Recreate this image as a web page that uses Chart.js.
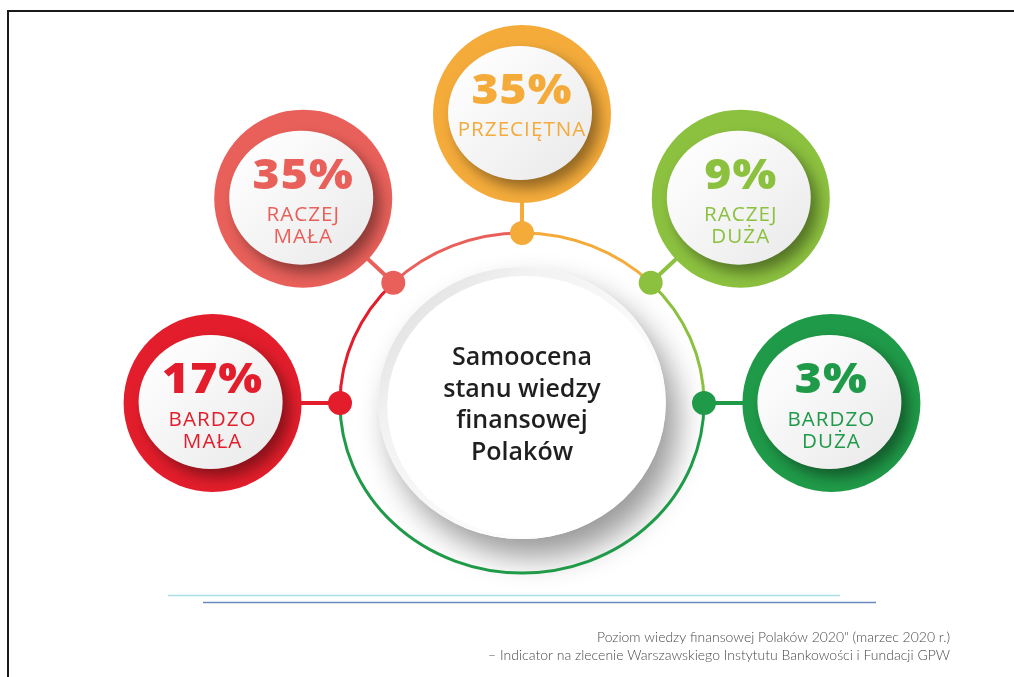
<!DOCTYPE html>
<html>
<head>
<meta charset="utf-8">
<script src="https://cdn.jsdelivr.net/npm/chart.js@4.4.1/dist/chart.umd.min.js"></script>
<style>
  html, body { margin: 0; padding: 0; background: #ffffff; }
  #wrap { position: relative; width: 1014px; height: 677px; }
  canvas { display: block; }
</style>
</head>
<body>
<div id="wrap"><canvas id="c" width="1014" height="677"></canvas></div>
<script>
// ---- data ----
const categories = ['BARDZO MAŁA', 'RACZEJ MAŁA', 'PRZECIĘTNA', 'RACZEJ DUŻA', 'BARDZO DUŻA'];
const labelLines = [['BARDZO', 'MAŁA'], ['RACZEJ', 'MAŁA'], ['PRZECIĘTNA'], ['RACZEJ', 'DUŻA'], ['BARDZO', 'DUŻA']];
const values = [17, 35, 35, 9, 3];
const centerTitle = ['Samoocena', 'stanu wiedzy', 'finansowej', 'Polaków'];
const sourceLines = [
  'Poziom wiedzy finansowej Polaków 2020" (marzec 2020 r.)',
  '– Indicator na zlecenie Warszawskiego Instytutu Bankowości i Fundacji GPW'
];

// ---- styles ----
const colors = ['#e31d2b', '#e9605a', '#f4ab3a', '#8cc13f', '#1f9a48'];
const ORBIT = 1.7;        // satellite distance in ring units

// angle (math convention, degrees) of each category on the ring: left -> right over the top
const angleOf = i => 180 - i * (180 / (categories.length - 1));
const rad = d => d * Math.PI / 180;

const ringDots = categories.map((c, i) => ({ x: Math.cos(rad(angleOf(i))), y: Math.sin(rad(angleOf(i))) }));
const satellites = categories.map((c, i) => ({ x: ORBIT * Math.cos(rad(angleOf(i))), y: ORBIT * Math.sin(rad(angleOf(i))) }));

function stretchedText(ctx, text, x, y, sx) {
  ctx.save();
  ctx.translate(x, y);
  ctx.scale(sx, 1);
  ctx.fillText(text, 0, 0);
  ctx.restore();
}

const infographic = {
  id: 'infographic',
  beforeDatasetsDraw(chart) {
    const { ctx } = chart;
    const xs = chart.scales.x, ys = chart.scales.y;
    const cx = xs.getPixelForValue(0), cy = ys.getPixelForValue(0);
    const rx = xs.getPixelForValue(1) - cx, ry = cy - ys.getPixelForValue(1);

    // frame
    ctx.save();
    ctx.strokeStyle = '#1a1a1a';
    ctx.lineWidth = 2;
    ctx.beginPath();
    ctx.moveTo(1014, 11); ctx.lineTo(8, 11); ctx.lineTo(8, 677);
    ctx.stroke();
    ctx.restore();

    // central disc with shadow
    const drx = rx * 0.79, dry = ry * 0.80;
    ctx.save();
    ctx.shadowColor = 'rgba(0,0,0,0.40)';
    ctx.shadowBlur = 30;
    ctx.shadowOffsetX = 12;
    ctx.shadowOffsetY = 18;
    ctx.fillStyle = '#ffffff';
    ctx.beginPath();
    ctx.ellipse(cx, cy, drx, dry, 0, 0, Math.PI * 2);
    ctx.fill();
    ctx.restore();
    ctx.save();
    const g = ctx.createLinearGradient(cx - drx, cy - dry, cx + drx * 0.6, cy + dry * 0.6);
    g.addColorStop(0, '#d6d6d6');
    g.addColorStop(0.35, '#f2f2f2');
    g.addColorStop(1, '#ffffff');
    ctx.fillStyle = g;
    ctx.beginPath();
    ctx.ellipse(cx, cy, drx, dry, 0, 0, Math.PI * 2);
    ctx.fill();
    ctx.fillStyle = '#ffffff';
    ctx.beginPath();
    ctx.ellipse(cx + 3, cy + 3, drx - 6, dry - 6, 0, 0, Math.PI * 2);
    ctx.fill();
    ctx.restore();

    // ring segments: the arc after each dot (clockwise from the left) takes that dot's colour
    ctx.save();
    ctx.lineWidth = 3;
    const n = categories.length;
    for (let i = 0; i < n; i++) {
      const s = -rad(angleOf(i));
      let e = i < n - 1 ? -rad(angleOf(i + 1)) : -rad(angleOf(0));
      while (e <= s) e += Math.PI * 2;
      ctx.strokeStyle = colors[i];
      ctx.beginPath();
      ctx.ellipse(cx, cy, rx, ry, 0, s, e);
      ctx.stroke();
    }
    ctx.restore();

    // connectors
    const dots = chart.getDatasetMeta(0).data;
    const sats = chart.getDatasetMeta(1).data;
    ctx.save();
    ctx.lineWidth = 4;
    dots.forEach((d, i) => {
      ctx.strokeStyle = colors[i];
      ctx.beginPath();
      ctx.moveTo(d.x, d.y);
      ctx.lineTo(sats[i].x, sats[i].y);
      ctx.stroke();
    });
    ctx.restore();

    // bottom rules
    ctx.save();
    ctx.lineWidth = 1.5;
    ctx.strokeStyle = '#a9dde8';
    ctx.beginPath(); ctx.moveTo(168, 595.5); ctx.lineTo(840, 595.5); ctx.stroke();
    ctx.strokeStyle = '#6a8cbc';
    ctx.beginPath(); ctx.moveTo(203, 602.5); ctx.lineTo(876, 602.5); ctx.stroke();
    ctx.restore();
  },
  afterDatasetsDraw(chart) {
    const { ctx } = chart;
    const xs = chart.scales.x, ys = chart.scales.y;
    const cx = xs.getPixelForValue(0), cy = ys.getPixelForValue(0);
    const sats = chart.getDatasetMeta(1).data;

    sats.forEach((s, i) => {
      // inner white disc
      ctx.save();
      ctx.shadowColor = 'rgba(0,0,0,0.40)';
      ctx.shadowBlur = 14;
      ctx.shadowOffsetX = 7;
      ctx.shadowOffsetY = 8;
      const gx = ctx.createLinearGradient(s.x - 60, s.y - 60, s.x + 50, s.y + 60);
      gx.addColorStop(0, '#ffffff');
      gx.addColorStop(1, '#ebebeb');
      ctx.fillStyle = gx;
      ctx.beginPath();
      ctx.ellipse(s.x - 2, s.y - 1, 72, 67, 0, 0, Math.PI * 2);
      ctx.fill();
      ctx.restore();

      // texts
      ctx.save();
      ctx.fillStyle = colors[i];
      ctx.textAlign = 'center';
      ctx.textBaseline = 'middle';
      ctx.font = '800 42px "Open Sans"';
      ctx.letterSpacing = '1px';
      stretchedText(ctx, values[i] + '%', s.x, s.y - 22, 1.1);
      ctx.font = '400 20px "Open Sans"';
      ctx.letterSpacing = '1px';
      const lines = labelLines[i];
      const y0 = lines.length === 1 ? s.y + 16 : s.y + 17;
      lines.forEach((t, k) => stretchedText(ctx, t, s.x, y0 + k * 22, 1.03));
      ctx.restore();
    });

    // central title
    ctx.save();
    ctx.fillStyle = '#1f1f1f';
    ctx.textAlign = 'center';
    ctx.textBaseline = 'middle';
    ctx.font = '600 25px "Open Sans"';
    const lh = 31.5;
    centerTitle.forEach((t, k) => stretchedText(ctx, t, cx, cy - 45 + k * lh, 1.0));
    ctx.restore();

    // source note
    ctx.save();
    ctx.fillStyle = '#4a4a4a';
    ctx.textAlign = 'right';
    ctx.textBaseline = 'middle';
    ctx.font = '300 14px "Lato"';
    ctx.fillText(sourceLines[0], 950, 637, 353);
    ctx.fillText(sourceLines[1], 950, 655, 463);
    ctx.restore();
  }
};

new Chart(document.getElementById('c'), {
  type: 'scatter',
  data: {
    datasets: [
      { label: 'ring', data: ringDots, backgroundColor: colors, borderWidth: 0, pointRadius: 12, pointHoverRadius: 12, clip: false },
      { label: 'satellites', data: satellites, backgroundColor: colors, borderWidth: 0, pointRadius: 89, pointHoverRadius: 89, clip: false }
    ]
  },
  options: {
    responsive: false,
    animation: false,
    events: [],
    layout: { autoPadding: false, padding: { left: 67, right: 37, top: 148, bottom: 19 } },
    scales: {
      x: { type: 'linear', min: -2.5, max: 2.5, display: false },
      y: { type: 'linear', min: -1.5, max: 1.5, display: false }
    },
    plugins: { legend: { display: false }, tooltip: { enabled: false } }
  },
  plugins: [infographic]
});
</script>
</body>
</html>
